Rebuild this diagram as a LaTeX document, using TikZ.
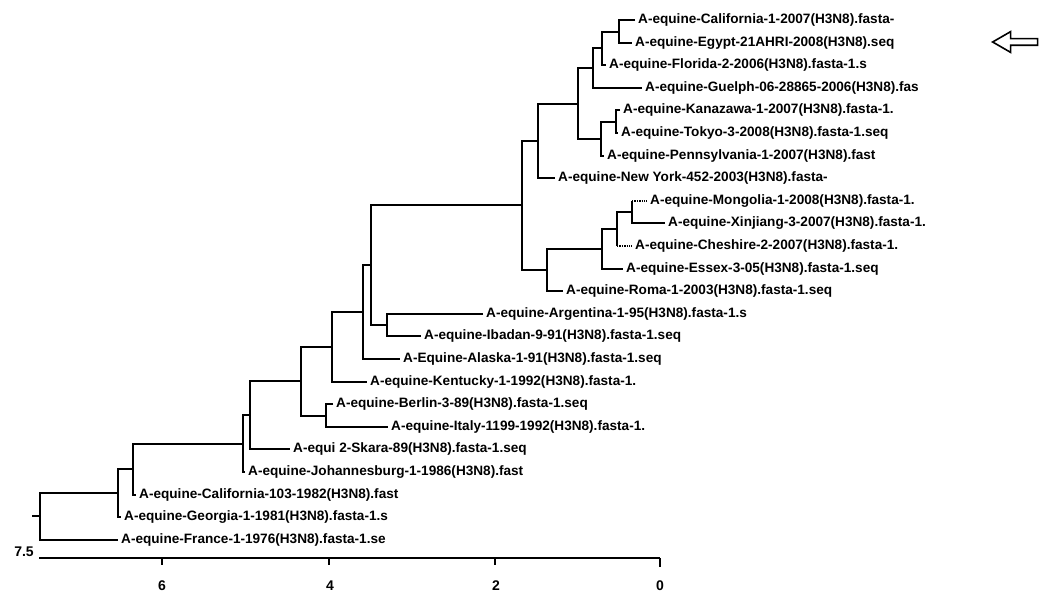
\documentclass[tikz,border=0pt]{standalone}
\usepackage{fontspec}
\setmainfont{Liberation Sans}
\usepackage{tikz}
\usetikzlibrary{shapes.arrows}

\begin{document}
\begin{tikzpicture}[
    x=1pt, y=-1pt,
    leaf/.style={anchor=west, inner sep=3pt, font=\bfseries\fontsize{13.6}{16}\selectfont},
    branch/.style={line width=2pt},
    faint/.style={line width=1.4pt, densely dotted},
    ticklabel/.style={font=\bfseries\fontsize{14}{16}\selectfont}
]
    \useasboundingbox (0,0) rectangle (1044,599);

    % Leaves: recent strains
    \node[leaf] (cal07) at (635,20) {A-equine-California-1-2007(H3N8).fasta-};
    \node[leaf] (egypt) at (632,43) {A-equine-Egypt-21AHRI-2008(H3N8).seq};
    \node[leaf] (florida) at (606,65) {A-equine-Florida-2-2006(H3N8).fasta-1.s};
    \node[leaf] (guelph) at (642,88) {A-equine-Guelph-06-28865-2006(H3N8).fas};
    \node[leaf] (kanazawa) at (620,110) {A-equine-Kanazawa-1-2007(H3N8).fasta-1.};
    \node[leaf] (tokyo) at (618,133) {A-equine-Tokyo-3-2008(H3N8).fasta-1.seq};
    \node[leaf] (penn) at (604,156) {A-equine-Pennsylvania-1-2007(H3N8).fast};
    \node[leaf] (newyork) at (555,178) {A-equine-New York-452-2003(H3N8).fasta-};

    % Leaves: Eurasian group
    \node[leaf] (mongolia) at (647,201) {A-equine-Mongolia-1-2008(H3N8).fasta-1.};
    \node[leaf] (xinjiang) at (665,223) {A-equine-Xinjiang-3-2007(H3N8).fasta-1.};
    \node[leaf] (cheshire) at (632,246) {A-equine-Cheshire-2-2007(H3N8).fasta-1.};
    \node[leaf] (essex) at (623,269) {A-equine-Essex-3-05(H3N8).fasta-1.seq};
    \node[leaf] (roma) at (563,291) {A-equine-Roma-1-2003(H3N8).fasta-1.seq};

    % Leaves: older strains
    \node[leaf] (argentina) at (483,314) {A-equine-Argentina-1-95(H3N8).fasta-1.s};
    \node[leaf] (ibadan) at (421,336) {A-equine-Ibadan-9-91(H3N8).fasta-1.seq};
    \node[leaf] (alaska) at (400,359) {A-Equine-Alaska-1-91(H3N8).fasta-1.seq};
    \node[leaf] (kentucky) at (367,382) {A-equine-Kentucky-1-1992(H3N8).fasta-1.};
    \node[leaf] (berlin) at (333,404) {A-equine-Berlin-3-89(H3N8).fasta-1.seq};
    \node[leaf] (italy) at (388,427) {A-equine-Italy-1199-1992(H3N8).fasta-1.};
    \node[leaf] (skara) at (290,449) {A-equi 2-Skara-89(H3N8).fasta-1.seq};
    \node[leaf] (joburg) at (245,472) {A-equine-Johannesburg-1-1986(H3N8).fast};
    \node[leaf] (cal82) at (136,495) {A-equine-California-103-1982(H3N8).fast};
    \node[leaf] (georgia) at (121,517) {A-equine-Georgia-1-1981(H3N8).fasta-1.s};
    \node[leaf] (france) at (118,540) {A-equine-France-1-1976(H3N8).fasta-1.se};

    % Internal nodes
    \coordinate (nCE) at (619,32);
    \coordinate (nCEF) at (602,48);
    \coordinate (nG) at (593,68);
    \coordinate (nKT) at (616,122);
    \coordinate (nKTP) at (601,139);
    \coordinate (nAm) at (578,104);
    \coordinate (nNY) at (538,141);
    \coordinate (nMX) at (632,212);
    \coordinate (nMXC) at (617,229);
    \coordinate (nEs) at (602,249);
    \coordinate (nRo) at (547,270);
    \coordinate (nUp) at (522,205);
    \coordinate (nAI) at (387,325);
    \coordinate (nUA) at (371,265);
    \coordinate (nAl) at (363,312);
    \coordinate (nKy) at (332,347);
    \coordinate (nBI) at (326,416);
    \coordinate (nKB) at (301,381);
    \coordinate (nSk) at (250,415);
    \coordinate (nJo) at (243,444);
    \coordinate (nC82) at (133,469);
    \coordinate (nGe) at (118,493);
    \coordinate (root) at (40,516);
    \coordinate (stub) at (32,516);

    % Branches
    \draw[branch] (cal07.west) -| (nCE) |- (egypt.west);
    \draw[branch] (nCE) -| (nCEF) |- (florida.west);
    \draw[branch] (nCEF) -| (nG) |- (guelph.west);
    \draw[branch] (kanazawa.west) -| (nKT) |- (tokyo.west);
    \draw[branch] (nKT) -| (nKTP) |- (penn.west);
    \draw[branch] (nG) -| (nAm) |- (nKTP);
    \draw[branch] (nAm) -| (nNY) |- (newyork.west);
    \draw[branch] (nMX |- mongolia.west) -- (nMX) |- (xinjiang.west);
    \draw[faint] (nMX |- mongolia.west) -- (mongolia.west);
    \draw[branch] (nMX) -| (nMXC);
    \draw[branch] (nMXC) -- (nMXC |- cheshire.west);
    \draw[faint] (nMXC |- cheshire.west) -- (cheshire.west);
    \draw[branch] (nMXC) -| (nEs) |- (essex.west);
    \draw[branch] (nEs) -| (nRo) |- (roma.west);
    \draw[branch] (nNY) -| (nUp) |- (nRo);
    \draw[branch] (argentina.west) -| (nAI) |- (ibadan.west);
    \draw[branch] (nUp) -| (nUA) |- (nAI);
    \draw[branch] (nUA) -| (nAl) |- (alaska.west);
    \draw[branch] (nAl) -| (nKy) |- (kentucky.west);
    \draw[branch] (berlin.west) -| (nBI) |- (italy.west);
    \draw[branch] (nKy) -| (nKB) |- (nBI);
    \draw[branch] (nKB) -| (nSk) |- (skara.west);
    \draw[branch] (nSk) -| (nJo) |- (joburg.west);
    \draw[branch] (nJo) -| (nC82) |- (cal82.west);
    \draw[branch] (nC82) -| (nGe) |- (georgia.west);
    \draw[branch] (nGe) -| (root) |- (france.west);
    \draw[branch] (stub) -- (root);

    % Scale axis
    \coordinate (ax75) at (39,558);
    \coordinate (ax6) at (162,558);
    \coordinate (ax4) at (329,558);
    \coordinate (ax2) at (495,558);
    \coordinate (ax0) at (660,558);
    \draw[branch] (ax75) -- (ax0);
    \draw[branch] (ax6) -- ++(0,7);
    \draw[branch] (ax4) -- ++(0,7);
    \draw[branch] (ax2) -- ++(0,7);
    \draw[branch] (ax0) -- ++(0,9);
    \node[ticklabel] (l75) at (24,552) {7.5};
    \node[ticklabel] (l6) at (162,586) {6};
    \node[ticklabel] (l4) at (330,586) {4};
    \node[ticklabel] (l2) at (496,586) {2};
    \node[ticklabel] (l0) at (660,586) {0};

    % Marker for the Egypt strain
    \node[single arrow, draw, line width=1.6pt, shape border rotate=180,
          inner sep=2.5pt, minimum height=45pt, minimum width=14pt,
          single arrow tip angle=60] (mark) at (1018,42) {};
\end{tikzpicture}
\end{document}
